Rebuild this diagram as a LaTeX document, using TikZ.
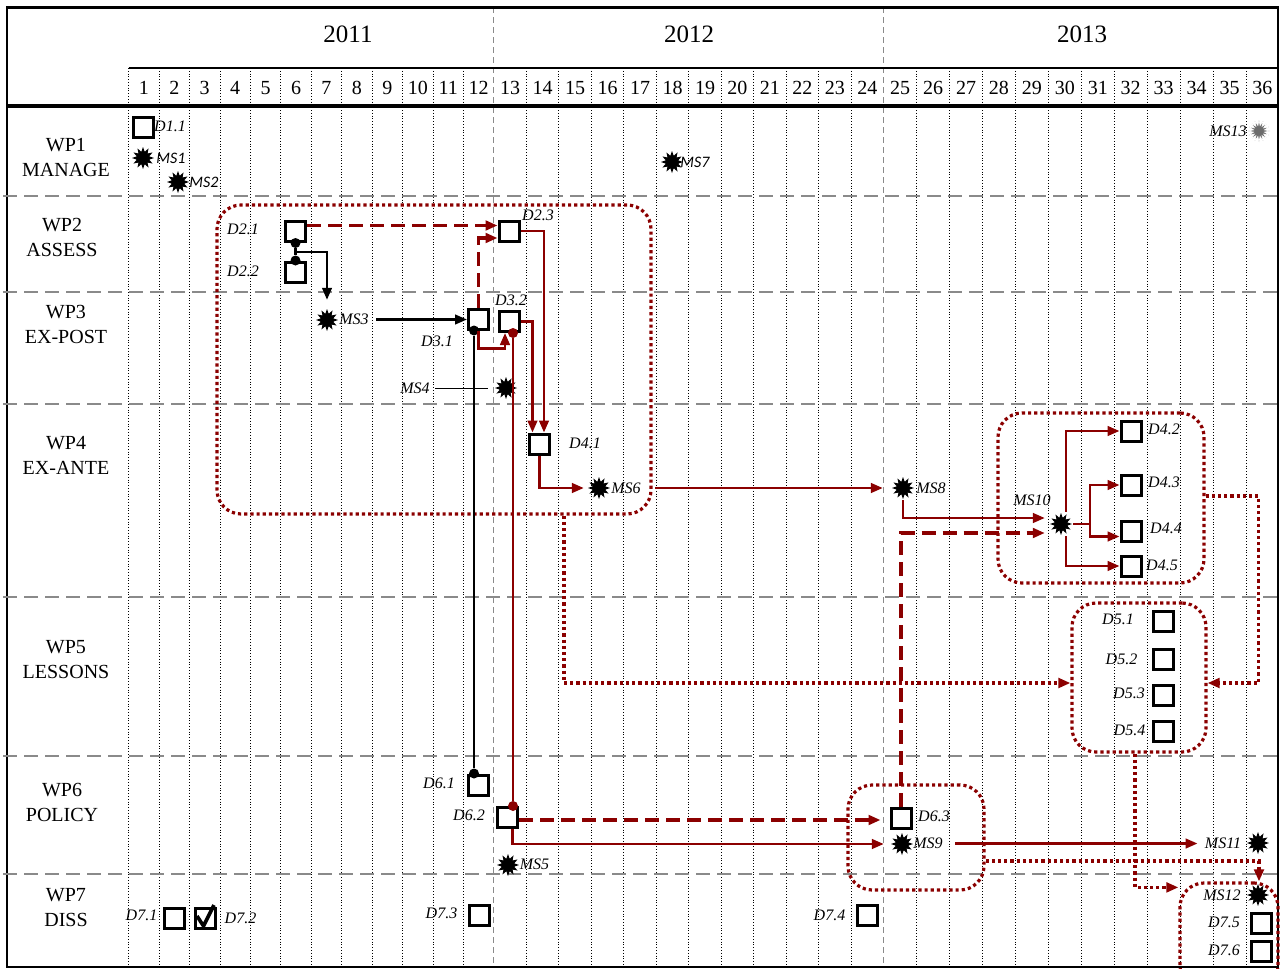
\documentclass[tikz,border=0pt]{standalone}
\usepackage{fontspec}
\setmainfont{Liberation Serif}
\newfontfamily\calfont{Carlito}
\usetikzlibrary{arrows.meta, shapes.geometric}
\definecolor{Wine}{HTML}{8B0000}
\definecolor{Grid}{HTML}{8A8A8A}

\begin{document}
\begin{tikzpicture}[x=0.5pt, y=-0.5pt,
    declare function={colx(\k)=128.6+30.44*min(\k,12)+32.48*max(0,min(\k,24)-12)+32.94*max(0,\k-24);},
    deliv/.style={draw, line width=1.5pt, fill=white, minimum size=10pt, inner sep=0pt},
    mstone/.style={star, star points=12, star point ratio=1.7, fill=black, inner sep=0pt, minimum size=11pt},
    lbl/.style={font=\fontsize{8}{10}\selectfont\itshape, inner sep=0pt},
    slbl/.style={font=\fontsize{8}{10}\selectfont\calfont\itshape, inner sep=0pt},
    wplbl/.style={align=center, font=\fontsize{10}{12.5}\selectfont},
    monthlbl/.style={font=\fontsize{10}{12}\selectfont},
    yearlbl/.style={font=\fontsize{12.5}{14}\selectfont},
    arrowtip/.style={-{Triangle[length=6pt,width=4.8pt]}},
    link/.style={Wine, line width=1.3pt, arrowtip},
    plan/.style={Wine, line width=1.6pt, dash pattern=on 7pt off 3.5pt, arrowtip},
    feed/.style={Wine, line width=1.6pt, dash pattern=on 1.6pt off 1.5pt, arrowtip},
    wpbox/.style={draw=Wine, line width=1.6pt, dash pattern=on 1.6pt off 1.5pt, rounded corners=12pt, inner sep=0pt},
    dep/.style={line width=1.2pt, arrowtip},
    joint/.style={circle, fill, inner sep=0pt, minimum size=5pt}]

  \useasboundingbox (0,0) rectangle (1280,969);

  % month grid
  \foreach \k in {0,...,35} {
    \ifnum\k=12 \else \ifnum\k=24 \else
      \draw[densely dotted, line width=0.4pt] ({colx(\k)},68) -- ({colx(\k)},967);
    \fi\fi
  }
  \foreach \k in {12,24}
    \draw[Grid, line width=0.6pt, dash pattern=on 3pt off 2pt] ({colx(\k)},7) -- ({colx(\k)},967);
  \foreach \m in {1,...,36}
    \node[monthlbl] (m\m) at ({(colx(\m-1)+colx(\m))/2},88) {\m};
  \node[yearlbl] (y2011) at (348,34) {2011};
  \node[yearlbl] (y2012) at (689,34) {2012};
  \node[yearlbl] (y2013) at (1082,34) {2013};

  % frame
  \draw[line width=1.5pt] (6,7) -- (1279,7);
  \draw[line width=1pt] (7,7) -- (7,967) -- (1278,967) -- (1278,7);
  \draw[line width=0.9pt] (128.6,68) -- (1278,68);
  \draw[line width=1.6pt] (7,106) -- (1278,106);
  \foreach \y in {196,292,404,597,756,874}
    \draw[Grid, line width=1pt, dash pattern=on 7pt off 3.5pt] (3,\y) -- (1280,\y);

  % work packages
  \node[wplbl] (wp1) at (66,157) {WP1\\MANAGE};
  \node[wplbl] (wp2) at (62,237) {WP2\\ASSESS};
  \node[wplbl] (wp3) at (66,324) {WP3\\EX-POST};
  \node[wplbl] (wp4) at (66,455) {WP4\\EX-ANTE};
  \node[wplbl] (wp5) at (66,660) {WP5\\LESSONS};
  \node[wplbl] (wp6) at (62,802) {WP6\\POLICY};
  \node[wplbl] (wp7) at (66,908) {WP7\\DISS};

  % groups
  \node[wpbox, minimum width=217pt, minimum height=154.5pt] (g24) at (434,359.5) {};
  \node[wpbox, minimum width=103pt, minimum height=85pt] (g4) at (1101,498) {};
  \node[wpbox, minimum width=67pt, minimum height=74.5pt] (g5) at (1139,677.5) {};
  \node[wpbox, minimum width=68pt, minimum height=52.5pt] (g6) at (916,837.5) {};
  \node[wpbox, minimum width=49pt, minimum height=53.5pt] (g7) at (1229,936.5) {};

  % WP1
  \node[deliv] (d11) at (143,127) {};
  \node[lbl] (d11l) at (170,126) {D1.1};
  \node[mstone] (ms1) at (143,158) {};
  \node[slbl] (ms1l) at (171,158) {MS1};
  \node[mstone] (ms2) at (178,182) {};
  \node[slbl] (ms2l) at (204,182) {MS2};
  \node[mstone] (ms7) at (672,162) {};
  \node[slbl] (ms7l) at (695,162) {MS7};
  \node[star, star points=16, star point ratio=2, fill=gray!85!black, draw=white, line width=0.3pt,
        inner sep=0pt, minimum size=11pt] (ms13) at (1259,131) {};
  \node[lbl] (ms13l) at (1228,131) {MS13};

  % WP2 and WP3
  \node[deliv] (d21) at (295.5,231.5) {};
  \node[lbl] (d21l) at (243,229) {D2.1};
  \node[deliv] (d22) at (295.5,272) {};
  \node[lbl] (d22l) at (243,271.5) {D2.2};
  \node[deliv] (d23) at (509,231) {};
  \node[lbl] (d23l) at (538,215) {D2.3};
  \node[mstone] (ms3) at (327,320) {};
  \node[lbl] (ms3l) at (354,319.5) {MS3};
  \node[deliv] (d31) at (478.5,319) {};
  \node[lbl] (d31l) at (437,341.5) {D3.1};
  \node[deliv] (d32) at (509,321.5) {};
  \node[lbl] (d32l) at (511,300) {D3.2};
  \node[mstone] (ms4) at (506,388) {};
  \node[lbl] (ms4l) at (415,388.5) {MS4};

  % WP4
  \node[deliv] (d41) at (539.5,444) {};
  \node[lbl] (d41l) at (585,443.5) {D4.1};
  \node[mstone] (ms6) at (599,488) {};
  \node[lbl] (ms6l) at (626,488) {MS6};
  \node[mstone] (ms8) at (903,488) {};
  \node[lbl] (ms8l) at (931,488) {MS8};
  \node[mstone] (ms10) at (1061,524) {};
  \node[lbl] (ms10l) at (1032,500) {MS10};
  \node[deliv] (d42) at (1131,431) {};
  \node[lbl] (d42l) at (1164,429.5) {D4.2};
  \node[deliv] (d43) at (1131,485) {};
  \node[lbl] (d43l) at (1164,482) {D4.3};
  \node[deliv] (d44) at (1131,531) {};
  \node[lbl] (d44l) at (1166,528.5) {D4.4};
  \node[deliv] (d45) at (1131,566) {};
  \node[lbl] (d45l) at (1162,565) {D4.5};

  % WP5
  \node[deliv] (d51) at (1163,621) {};
  \node[lbl] (d51l) at (1118,619) {D5.1};
  \node[deliv] (d52) at (1163,659) {};
  \node[lbl] (d52l) at (1121.5,659) {D5.2};
  \node[deliv] (d53) at (1163,695) {};
  \node[lbl] (d53l) at (1129,693) {D5.3};
  \node[deliv] (d54) at (1163,731) {};
  \node[lbl] (d54l) at (1129.5,730) {D5.4};

  % WP6
  \node[deliv] (d61) at (478.5,785) {};
  \node[lbl] (d61l) at (439,783) {D6.1};
  \node[deliv] (d62) at (507.7,817.5) {};
  \node[lbl] (d62l) at (469,815.5) {D6.2};
  \node[deliv] (d63) at (901,818) {};
  \node[lbl] (d63l) at (934,816.5) {D6.3};
  \node[mstone] (ms9) at (902,844) {};
  \node[lbl] (ms9l) at (928,843.5) {MS9};
  \node[mstone] (ms5) at (508,865) {};
  \node[lbl] (ms5l) at (534.5,864) {MS5};
  \node[mstone] (ms11) at (1258,843) {};
  \node[lbl] (ms11l) at (1223,843.5) {MS11};

  % WP7
  \node[deliv] (d71) at (174.3,918) {};
  \node[lbl] (d71l) at (141.5,915) {D7.1};
  \node[deliv] (d72) at (205,918) {};
  \node[lbl] (d72l) at (240.5,918) {D7.2};
  \draw[line width=1.8pt, line join=miter] ([shift={(-8,-2)}]d72.center)
    -- ([shift={(-1.5,8)}]d72.center) -- ([shift={(9,-13)}]d72.center);
  \node[deliv] (d73) at (479.4,915) {};
  \node[lbl] (d73l) at (441.5,913) {D7.3};
  \node[deliv] (d74) at (867,915.5) {};
  \node[lbl] (d74l) at (829.5,915) {D7.4};
  \node[mstone] (ms12) at (1258,895) {};
  \node[lbl] (ms12l) at (1222,895) {MS12};
  \node[deliv] (d75) at (1261.7,923) {};
  \node[lbl] (d75l) at (1224,922) {D7.5};
  \node[deliv] (d76) at (1261.7,951) {};
  \node[lbl] (d76l) at (1224,950.5) {D7.6};

  % black dependencies
  \node[joint] (j21) at (d21.south) {};
  \node[joint] (j22) at (d22.north) {};
  \draw[line width=1.2pt] (j21) -- (j22);
  \coordinate (fork2) at (295.5,252);
  \draw[dep] (fork2) -| ([yshift=4pt]ms3.north);
  \draw[dep, shorten <=3.5pt] (ms3l.east) -- (ms3l.east -| d31.west);
  \node[joint] (j31) at ([xshift=-2.25pt]d31.south) {};
  \node[joint] (j61) at (j31 |- d61.north) {};
  \draw[line width=1.3pt] (j31) -- (j61);
  \draw[line width=0.4pt, shorten <=2.5pt, shorten >=3pt] (ms4l.east) -- (ms4l.east -| ms4.west);

  % red links
  \draw[plan] ([yshift=3pt]d21.east) -- ([yshift=3pt]d21.east -| d23.west);
  \draw[plan] (d31.north) |- ([yshift=-3.5pt]d23.west);
  \draw[link] (d31.south) -- ++(0,-9pt) -| ([xshift=-2pt]d32.south);
  \node[joint, Wine] (j32) at ([xshift=2pt]d32.south) {};
  \node[joint, Wine] (j62) at (j32 |- d62.north) {};
  \draw[Wine, line width=1.3pt] (j32) -- (j62);
  \draw[link] (d23.east) -| ([xshift=2.25pt]d41.north);
  \draw[link] (d32.east) -| ([xshift=-3.5pt]d41.north);
  \draw[link, shorten >=1.5pt] (d41.south) |- (ms6.west);
  \draw[link, shorten <=7pt, shorten >=4pt] (ms6l.east) -- (ms6l.east -| ms8.west);
  \draw[link, shorten >=2pt] (ms8.south) |- ([yshift=3pt]ms10.west);
  \draw[plan, shorten >=2pt] (d63.north) |- ([yshift=-4.5pt]ms10.west);
  \draw[link] ([xshift=2.5pt]ms10.north) |- (d42.west);
  \draw[link] ([xshift=2.5pt]ms10.south) |- (d45.west);
  \coordinate (fork10) at (1090,524);
  \draw[Wine, line width=0.8pt] (ms10.east) -- (fork10);
  \draw[link] (fork10) |- (d43.west);
  \draw[link] (fork10) |- ([yshift=-2.75pt]d44.west);
  \draw[plan, shorten >=4.5pt] ([yshift=-1.25pt]d62.east) -- ([yshift=-1.25pt]d62.east -| d63.west);
  \draw[link, shorten >=3pt] ([xshift=2.5pt]d62.south) |- (ms9.west);
  \draw[link, shorten <=6pt, shorten >=3.5pt] (ms9l.east) -- (ms9l.east -| ms11l.west);

  % feeds between groups
  \draw[feed] ([xshift=65pt]g24.south) |- ([yshift=-2.75pt]g5.west);
  \draw[feed] ([yshift=1pt]g4.east) -- ++(26.5pt,0) |- ([yshift=-2.75pt]g5.east);
  \draw[feed] ([xshift=-2pt]g5.south) |- ([yshift=-3pt]g7.north west);
  \draw[feed] ([yshift=-11.75pt]g6.east) -| ([xshift=15pt]g7.north);
\end{tikzpicture}
\end{document}
